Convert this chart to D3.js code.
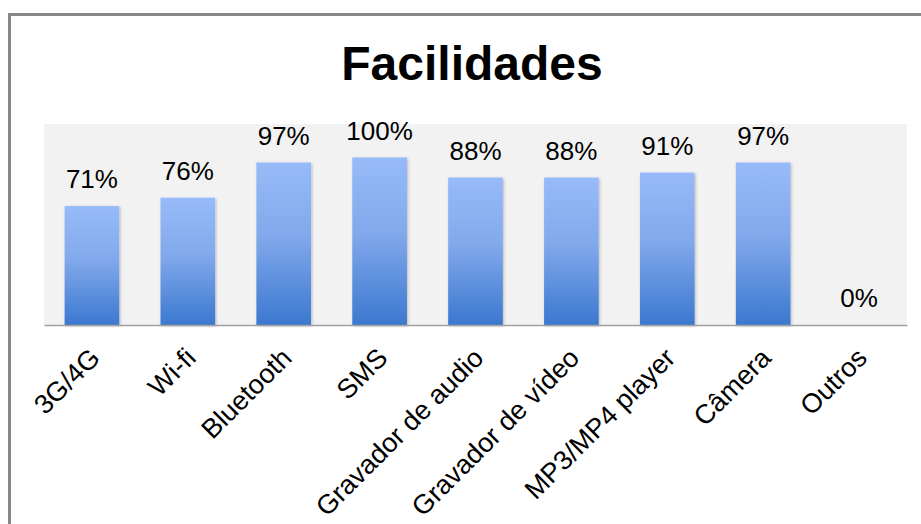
<!DOCTYPE html>
<html>
<head>
<meta charset="utf-8">
<script src="https://cdn.jsdelivr.net/npm/d3@7"></script>
<style>
  html, body { margin: 0; padding: 0; background: #fff; }
  svg { display: block; font-family: "Liberation Sans", Arial, sans-serif; }
</style>
</head>
<body>
<svg id="chart" width="921" height="524"></svg>
<script>
// Feature availability shares
const categories = ["3G/4G", "Wi-fi", "Bluetooth", "SMS", "Gravador de audio",
                    "Gravador de vídeo", "MP3/MP4 player", "Câmera", "Outros"];
const values = [0.71, 0.76, 0.97, 1.00, 0.88, 0.88, 0.91, 0.97, 0.00];
const valueLabels = ["71%", "76%", "97%", "100%", "88%", "88%", "91%", "97%", "0%"];
const title = "Facilidades";

const svg = d3.select("#chart");
const W = 921, H = 524;
const plot = { left: 44, right: 907, top: 124, bottom: 325 };

// Outer frame
svg.append("rect")
  .attr("x", 9.5).attr("y", 14.5)
  .attr("width", W + 10).attr("height", H + 10)
  .attr("fill", "#fff")
  .attr("stroke", "#878787").attr("stroke-width", 3);

// Title
svg.append("text")
  .attr("x", 472).attr("y", 80)
  .attr("text-anchor", "middle")
  .attr("font-size", 48).attr("font-weight", "bold")
  .attr("fill", "#000")
  .text(title);

const x = d3.scaleBand()
  .domain(categories)
  .range([plot.left, plot.right])
  .paddingInner(0.43).paddingOuter(0.215);

const y = d3.scaleLinear().domain([0, 1.2]).range([plot.bottom, plot.top]);

// Plot area background
svg.append("rect")
  .attr("x", plot.left).attr("y", plot.top)
  .attr("width", plot.right - plot.left).attr("height", plot.bottom - plot.top)
  .attr("fill", "#f2f2f2");

const defs = svg.append("defs");
const grad = defs.append("linearGradient")
  .attr("id", "barGrad").attr("x1", 0).attr("y1", 0).attr("x2", 0).attr("y2", 1)
  .attr("gradientUnits", "objectBoundingBox");
grad.append("stop").attr("offset", "0%").attr("stop-color", "#97bbf8");
grad.append("stop").attr("offset", "45%").attr("stop-color", "#82a9ec");
grad.append("stop").attr("offset", "100%").attr("stop-color", "#3b78cf");

const shadow = defs.append("filter").attr("id", "soft")
  .attr("x", "-20%").attr("y", "-20%").attr("width", "140%").attr("height", "140%");
shadow.append("feGaussianBlur").attr("in", "SourceAlpha").attr("stdDeviation", 1.5).attr("result", "b");
shadow.append("feOffset").attr("in", "b").attr("dx", 1).attr("dy", 1).attr("result", "o");
shadow.append("feComponentTransfer").attr("in", "o").attr("result", "s")
  .append("feFuncA").attr("type", "linear").attr("slope", 0.25);
const fm = shadow.append("feMerge");
fm.append("feMergeNode").attr("in", "s");
fm.append("feMergeNode").attr("in", "SourceGraphic");

// Bars
svg.append("g").selectAll("rect")
  .data(values)
  .join("rect")
  .attr("x", (d, i) => x(categories[i]))
  .attr("y", d => y(d))
  .attr("width", x.bandwidth())
  .attr("height", d => y(0) - y(d))
  .attr("fill", "url(#barGrad)")
  .attr("filter", "url(#soft)");

// Value labels
svg.append("g").selectAll("text")
  .data(values)
  .join("text")
  .attr("x", (d, i) => x(categories[i]) + x.bandwidth() / 2)
  .attr("y", d => y(d) - 18)
  .attr("text-anchor", "middle")
  .attr("font-size", 26)
  .attr("fill", "#000")
  .text((d, i) => valueLabels[i]);

// Category axis
const xAxis = d3.axisBottom(x).tickSize(0).tickPadding(0);
const gx = svg.append("g")
  .attr("transform", `translate(0,${plot.bottom})`)
  .call(xAxis);
gx.select(".domain").attr("stroke", "#a0a0a0").attr("stroke-width", 1.5);
gx.selectAll(".tick text")
  .attr("font-size", 27)
  .attr("font-family", "Liberation Sans, Arial, sans-serif")
  .attr("fill", "#000")
  .attr("text-anchor", "end")
  .attr("y", 0).attr("dy", "0.71em")
  .attr("transform", "translate(-4,21) rotate(-45)");
</script>
</body>
</html>
